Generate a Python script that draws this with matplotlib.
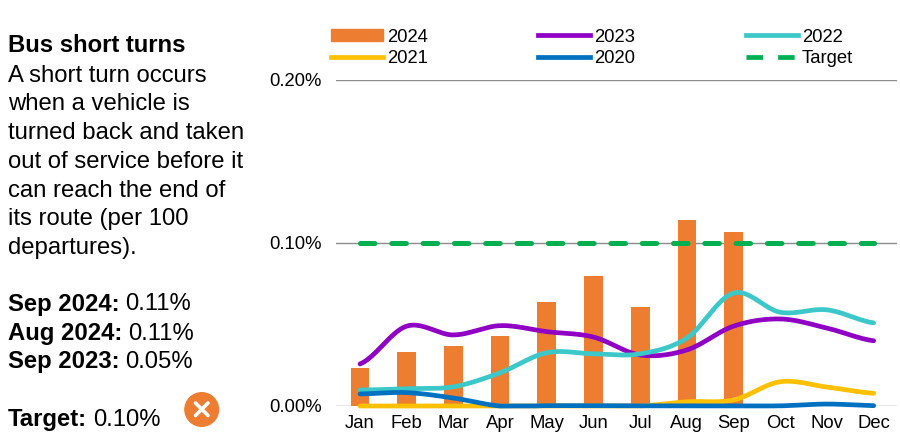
import numpy as np
import matplotlib
matplotlib.use('Agg')
import matplotlib.pyplot as plt
from matplotlib.patches import Circle, Patch
from matplotlib.lines import Line2D

plt.rcParams['font.family'] = ['Liberation Sans', 'DejaVu Sans']

months = ['Jan', 'Feb', 'Mar', 'Apr', 'May', 'Jun', 'Jul', 'Aug', 'Sep', 'Oct', 'Nov', 'Dec']

# monthly rates in percent
bars_2024 = [0.0233, 0.0333, 0.0368, 0.0430, 0.0640, 0.0798, 0.0607, 0.1140, 0.1067]
line_2023 = [0.0258, 0.0490, 0.0436, 0.0493, 0.0456, 0.0423, 0.0313, 0.0344, 0.0490, 0.0534, 0.0478, 0.0400]
line_2022 = [0.0098, 0.0106, 0.0118, 0.0204, 0.0327, 0.0320, 0.0320, 0.0417, 0.0693, 0.0575, 0.0590, 0.0510]
line_2021 = [0.0, 0.0, 0.0, 0.0, 0.0, 0.0, 0.0, 0.0026, 0.0037, 0.0149, 0.0116, 0.0078]
line_2020 = [0.0074, 0.0082, 0.0049, 0.0, 0.0002, 0.0002, 0.0001, 0.0001, 0.0001, 0.0001, 0.0012, 0.0002]
target = [0.10] * 12

yticks = [0.0, 0.10, 0.20]
ytick_labels = ['0.00%', '0.10%', '0.20%']

ORANGE = '#ED7D31'
PURPLE = '#8F00C4'
CYAN = '#3CC8C8'
YELLOW = '#FFC000'
BLUE = '#0070C0'
GREEN = '#00B050'
GRID = '#8C8C8C'


def smooth(vals, n=24):
    # catmull-rom between the monthly values, like the rounded lines of the chart
    vals = np.array(vals, dtype=float)
    p = np.concatenate(([vals[0]], vals, [vals[-1]]))
    xs, ys = [], []
    for i in range(1, len(p) - 2):
        t = np.linspace(0, 1, n, endpoint=False)
        y = 0.5 * (2 * p[i] + (p[i + 1] - p[i - 1]) * t
                   + (2 * p[i - 1] - 5 * p[i] + 4 * p[i + 1] - p[i + 2]) * t ** 2
                   + (3 * p[i] - p[i - 1] - 3 * p[i + 1] + p[i + 2]) * t ** 3)
        xs.append(i - 1 + t)
        ys.append(y)
    xs.append([len(vals) - 1])
    ys.append([vals[-1]])
    return np.concatenate(xs), np.maximum(np.concatenate(ys), 0)


fig = plt.figure(figsize=(9, 4.42), dpi=100)

# plot area: 336..897 px wide, y=0 at 406 px, 0.20 at 80 px
ax = fig.add_axes([336 / 900, 1 - 406 / 442, 561 / 900, 326 / 442])
ax.set_xlim(-0.515, 11.5)
ax.set_ylim(0, 0.20)

ax.bar(range(len(bars_2024)), bars_2024, width=0.4, color=ORANGE, zorder=2)

for vals, col in [(line_2023, PURPLE), (line_2022, CYAN), (line_2021, YELLOW), (line_2020, BLUE)]:
    xs, ys = smooth(vals)
    ax.plot(xs, ys, color=col, lw=3.4, solid_capstyle='round', clip_on=False, zorder=3)

ax.plot(range(12), target, color=GREEN, lw=3.6, zorder=4,
        dashes=(2.9, 3.36), dash_capstyle='round')

ax.set_yticks(yticks)
ax.set_yticklabels(ytick_labels, fontsize=13.3)
ax.set_xticks(range(12))
ax.set_xticklabels(months, fontsize=13.3)
ax.tick_params(length=0)
ax.tick_params(axis='y', pad=10)
ax.tick_params(axis='x', pad=6.5)
ax.grid(axis='y', color=GRID, lw=1, zorder=1)
ax.set_axisbelow(True)
for s in ax.spines.values():
    s.set_visible(False)

handles = [
    Patch(color=ORANGE, label='2024'),
    Line2D([], [], color=YELLOW, lw=3.4, label='2021'),
    Line2D([], [], color=PURPLE, lw=3.4, label='2023'),
    Line2D([], [], color=BLUE, lw=3.4, label='2020'),
    Line2D([], [], color=CYAN, lw=3.4, label='2022'),
    Line2D([], [], color=GREEN, lw=3.4, dashes=(3.5, 3.2), label='Target'),
]
fig.legend(handles=handles, ncol=3, frameon=False, fontsize=13.3,
           loc='upper left', bbox_to_anchor=(331 / 900, 1 - 28.5 / 442),
           borderaxespad=0, borderpad=0, handlelength=2.8, handleheight=0.55,
           handletextpad=0.22, labelspacing=0.24, columnspacing=6.0)

# left hand text panel, drawn in pixel coordinates
ov = fig.add_axes([0, 0, 1, 1], zorder=5)
ov.set_xlim(0, 900)
ov.set_ylim(442, 0)
ov.axis('off')
ov.patch.set_alpha(0)

TXT = 17.2
ov.text(8, 46, 'Bus short turns', fontsize=TXT, fontweight='bold', va='center')
body = ['A short turn occurs', 'when a vehicle is', 'turned back and taken',
        'out of service before it', 'can reach the end of', 'its route (per 100', 'departures).']
for i, line in enumerate(body):
    ov.text(8, 75.5 + i * 28.8, line, fontsize=TXT, va='center')

renderer = fig.canvas.get_renderer()
stats = [('Sep 2024:', '0.11%', 304.5), ('Aug 2024:', '0.11%', 333.5),
         ('Sep 2023:', '0.05%', 361.5), ('Target:', '0.10%', 419.5)]
for head, val, y in stats:
    t = ov.text(8, y, head, fontsize=TXT, fontweight='bold', va='center')
    ext = t.get_window_extent(renderer)
    ov.text(ext.x1 + 6, y, val, fontsize=TXT, va='center')

# status icon
ov.add_patch(Circle((201.7, 409.5), 16.8, color=ORANGE, zorder=6))
ov.plot([195.5, 208], [403, 415.5], color='white', lw=2.6, solid_capstyle='round', zorder=7)
ov.plot([195.5, 208], [415.5, 403], color='white', lw=2.6, solid_capstyle='round', zorder=7)

fig.savefig('out.png', dpi=100)
